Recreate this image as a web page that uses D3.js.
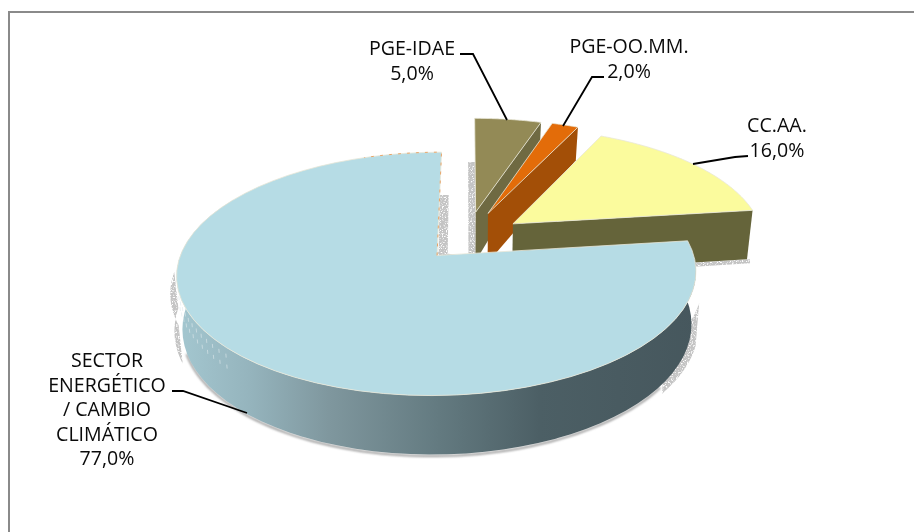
<!DOCTYPE html>
<html>
<head>
<meta charset="utf-8">
<script src="https://cdn.jsdelivr.net/npm/d3@7"></script>
<style>
  body { margin: 0; background: #fff; }
  svg { display: block; }
  text { font-family: "Open Sans", sans-serif; font-size: 19.6px; fill: #0a0a0a; text-anchor: middle; }
</style>
</head>
<body>
<div id="chart"></div>
<script>
// clockwise from 12 o'clock, same order as the original pie
const categories = ['PGE-IDAE', 'PGE-OO.MM.', 'CC.AA.', 'SECTOR ENERGÉTICO / CAMBIO CLIMÁTICO'];
const shares = [5, 2, 16, 77];
const shareLabels = ['5,0%', '2,0%', '16,0%', '77,0%'];

// label placement, separate from the data
const labelLines = [['PGE-IDAE'], ['PGE-OO.MM.'], ['CC.AA.'], ['SECTOR', 'ENERGÉTICO', '/ CAMBIO', 'CLIMÁTICO']];
const labelAnchors = [[412, 55, 25], [629, 53, 25], [777, 132, 25], [107, 367, 24.5]];
const leaders = [
  [[460, 54], [473, 54], [507, 120]],
  [[604, 77], [592, 77], [563, 126]],
  [[748, 156], [735, 157], [693, 164]],
  [[172, 391], [183, 391], [247, 413]]
];

const width = 914, height = 532;
const topColors = ['#938a56', '#e36c09', '#fbfb9d', '#b6dce5'];
const sideColors = ['#6f6a42', '#a34f07', '#65643a', 'url(#bandGrad)'];

const explode = 0.2;   // every slice pulled out by this share of the radius
const persp = 0.148;   // far side of the pie gets smaller
const nudges = [[-4, -4], [-2, -4], [1, -1], [-1, 0]];   // small px corrections per slice

const xScale = d3.scaleLinear().domain([-1, 1]).range([472 - 251, 472 + 251]);
const yScale = d3.scaleLinear().domain([-1, 1]).range([238 + 113.7, 238 - 113.7]);
const depth = d3.scaleLinear().domain([-1.15, 0.24, 1.1]).range([59, 49, 33]);

// pie-plane point (X right, Y back) + z (0 top face, 1 bottom face) -> screen
function project(X, Y, z = 0) {
  const s = 1 / (1 + persp * Y);
  const px = xScale(X * s);
  return [472 + (px - 472) * (1 - 0.02 * z), yScale(Y * s) + z * depth(Y)];
}

const slices = d3.pie().sort(null).value(d => d)(shares).map((p, i) => {
  const mid = (p.startAngle + p.endAngle) / 2;
  return { ...p, i, ox: explode * Math.sin(mid), oy: explode * Math.cos(mid) };
});

function rimPoint(s, a, z = 0, r = 1) {
  const [x, y] = project(s.ox + r * Math.sin(a), s.oy + r * Math.cos(a), z);
  return [x + nudges[s.i][0], y + nudges[s.i][1]];
}
function rim(s, a0, a1, z = 0, r = 1) {
  return d3.range(0, 61).map(k => rimPoint(s, a0 + (a1 - a0) * k / 60, z, r));
}
const line = d3.line();
const closed = pts => line(pts) + 'Z';

const svg = d3.select('#chart').append('svg').attr('width', width).attr('height', height);
const defs = svg.append('defs');

const grad = defs.append('linearGradient').attr('id', 'bandGrad')
  .attr('gradientUnits', 'userSpaceOnUse')
  .attr('x1', xScale(-1.2)).attr('x2', xScale(0.9)).attr('y1', 0).attr('y2', 0);
[[0.02, '#a3c6cf'], [0.15, '#95b4bd'], [0.3, '#7f979e'], [0.51, '#637a80'], [0.7, '#4c5f65'], [1, '#46575d']]
  .forEach(([o, c]) => grad.append('stop').attr('offset', o).attr('stop-color', c));

const speckle = defs.append('filter').attr('id', 'speckle')
  .attr('filterUnits', 'userSpaceOnUse').attr('x', 0).attr('y', 0).attr('width', width).attr('height', height);
speckle.append('feTurbulence').attr('type', 'fractalNoise').attr('baseFrequency', 0.8)
  .attr('numOctaves', 2).attr('seed', 4).attr('result', 'n');
speckle.append('feColorMatrix').attr('in', 'n').attr('type', 'matrix')
  .attr('values', '0 0 0 0 0  0 0 0 0 0  0 0 0 0 0  0 0 0 -5 3.6').attr('result', 'a');
speckle.append('feComposite').attr('in', 'SourceGraphic').attr('in2', 'a').attr('operator', 'in');

defs.append('filter').attr('id', 'soft').attr('x', '-5%').attr('y', '-20%').attr('width', '110%').attr('height', '140%')
  .append('feGaussianBlur').attr('stdDeviation', 1.2);

// frame: only the top and left lines of the chart area are in the crop
svg.append('path').attr('d', 'M9,532V12H914').attr('fill', 'none').attr('stroke', '#8a8a8a').attr('stroke-width', 2);

const [idae, oomm, ccaa, sector] = slices;
const toDeg = d => d * Math.PI / 180;

// speckled shadows behind the pie
const shadowGrey = '#c4c4c4';
const shadows = svg.append('g').attr('fill', shadowGrey).attr('filter', 'url(#speckle)');
const band = (s, a0, a1, z0, z1, r) => closed([...rim(s, a0, a1, z0, r), ...rim(s, a1, a0, z1, r)]);
// quad along a cut edge, shifted sideways by dx
const edgeShadow = (s, a, t, dx) => {
  const top = rimPoint(s, a, 0, t), low = rimPoint(s, a, 1, 0);
  return closed([top, low, [low[0] + dx, low[1]], [top[0] + dx, top[1]]]);
};
shadows.append('path').attr('d', band(sector, toDeg(246), toDeg(270), 0.3, 1, 1.015)).attr('transform', 'translate(-4,1)');
shadows.append('path').attr('d', band(sector, toDeg(106), toDeg(127), 0.2, 1, 1.015)).attr('transform', 'translate(3,2)');
shadows.append('path').attr('d', edgeShadow(idae, 0, 0.5, -7));
shadows.append('path').attr('d', edgeShadow(sector, 2 * Math.PI, 0.55, 9));
shadows.append('path').attr('d', line([rimPoint(sector, 0, 0, 0), rimPoint(idae, 0, 1, 0)]))
  .attr('fill', 'none').attr('stroke', shadowGrey).attr('stroke-width', 3).attr('transform', 'translate(0,-2)');
shadows.append('path').attr('d', line([rimPoint(ccaa, ccaa.endAngle, 1, 0.45), rimPoint(ccaa, ccaa.endAngle, 1, 1)]))
  .attr('fill', 'none').attr('stroke', shadowGrey).attr('stroke-width', 4).attr('transform', 'translate(3,2)');

// soft shadow under the front of the big slice
svg.append('path').attr('d', line(rim(sector, toDeg(125), toDeg(250), 1)))
  .attr('fill', 'none').attr('stroke', '#999').attr('stroke-width', 2).attr('filter', 'url(#soft)').attr('transform', 'translate(0,1.5)');

const pieG = svg.append('g');
slices.forEach(s => {
  const g = pieG.append('g');
  const apex = rimPoint(s, 0, 0, 0), apexLow = rimPoint(s, 0, 1, 0);
  if (s.i < 3) {
    // cut face on the clockwise side
    g.append('path')
      .attr('d', closed([apex, rimPoint(s, s.endAngle), rimPoint(s, s.endAngle, 1), apexLow]))
      .attr('fill', sideColors[s.i]);
  } else {
    g.append('path')
      .attr('d', closed([...rim(s, s.startAngle, toDeg(300)), ...rim(s, toDeg(300), s.startAngle, 1)]))
      .attr('fill', sideColors[s.i]);
  }
  g.append('path')
    .attr('d', closed([apex, ...rim(s, s.startAngle, s.endAngle)]))
    .attr('fill', topColors[s.i])
    .attr('stroke', '#e9e7d8').attr('stroke-width', 0.8);
});

// orange flecks along the top corner of the big slice
svg.append('path')
  .attr('d', line([rimPoint(sector, 0, 0, 0), ...rim(sector, 2 * Math.PI, toDeg(340))]))
  .attr('fill', 'none').attr('stroke', '#e8a468').attr('stroke-width', 1).attr('stroke-dasharray', '3 6');

// light specks in the left part of the wall
const specks = svg.append('g').attr('stroke', '#dfe9ec').attr('stroke-width', 1).attr('stroke-dasharray', '4 7').attr('opacity', 0.6);
d3.range(254, 226, -2.5).forEach(deg => {
  const [x0, y0] = rimPoint(sector, toDeg(deg), 0.12);
  const [x1, y1] = rimPoint(sector, toDeg(deg), 0.5);
  specks.append('line').attr('x1', x0).attr('y1', y0).attr('x2', x1).attr('y2', y1);
});

// leaders and labels
svg.append('g').attr('fill', 'none').attr('stroke', '#000').attr('stroke-width', 1.8)
  .selectAll('path').data(leaders).join('path').attr('d', d => line(d));

const labels = svg.append('g');
categories.forEach((c, i) => {
  const [x, y, lh] = labelAnchors[i];
  const t = labels.append('text').attr('x', x).attr('y', y).attr('data-category', c);
  [...labelLines[i], shareLabels[i]].forEach((l, k) => {
    t.append('tspan').attr('x', x).attr('y', y + k * lh).text(l);
  });
});
</script>
</body>
</html>
